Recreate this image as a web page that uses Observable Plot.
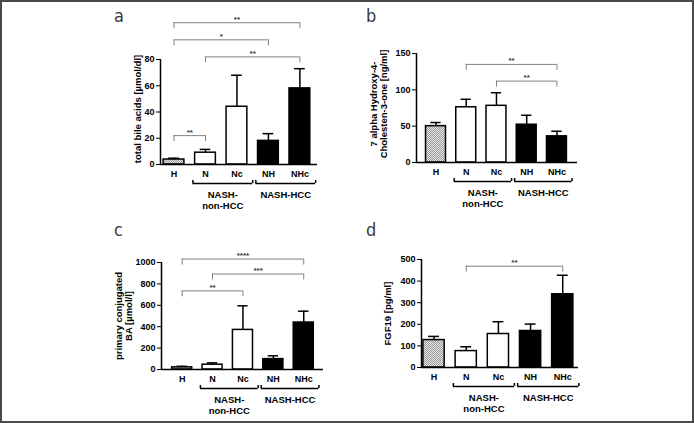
<!DOCTYPE html>
<html><head><meta charset="utf-8">
<script src="https://cdn.jsdelivr.net/npm/d3@7"></script>
<script src="https://cdn.jsdelivr.net/npm/@observablehq/plot@0.6"></script>
<style>
html,body{margin:0;padding:0;background:#fff;}
#fig{position:relative;width:694px;height:423px;overflow:hidden;background:#fff;}
#fig svg{position:absolute;}
#frame{position:absolute;left:0;top:0;width:694px;height:423px;box-sizing:border-box;border:2px solid #4a4a4a;pointer-events:none;}
</style></head><body>
<div id="fig"><div id="frame"></div></div>
<script>
// ---------- data ----------
const categories = ["H", "N", "Nc", "NH", "NHc"];
const groupNames = ["NASH-\nnon-HCC", "NASH-HCC"];
const groupFrom = ["N", "NH"];
const groupTo = ["Nc", "NHc"];

// a: total bile acids
const totalBAMean = [3.8, 9, 44, 18, 58];
const totalBAErr = [4.8, 11.5, 68, 23.5, 73];
const totalBATicks = [0, 20, 40, 60, 80];
const totalBASig = [["H", "N", "**", 22], ["N", "NHc", "**", 82], ["H", "NH", "*", 95], ["H", "NHc", "**", 108]];

// b: 7 alpha Hydroxy-4-Cholesten-3-one
const c4Mean = [50, 76, 78, 52, 36];
const c4Err = [55, 87, 96, 65, 43];
const c4Ticks = [0, 50, 100, 150];
const c4Sig = [["N", "NHc", "**", 135], ["Nc", "NHc", "**", 112]];

// c: primary conjugated BA
const pcBAMean = [20, 45, 370, 97, 439];
const pcBAErr = [30, 62, 595, 128, 545];
const pcBATicks = [0, 200, 400, 600, 800, 1000];
const pcBASig = [["H", "NHc", "****", 1032], ["N", "NHc", "***", 892], ["H", "Nc", "**", 735]];

// d: FGF19
const fgfMean = [127, 76, 155, 169, 339];
const fgfErr = [144, 96, 212, 201, 427];
const fgfTicks = [0, 100, 200, 300, 400, 500];
const fgfSig = [["N", "NHc", "**", 469]];

// ---------- layout ----------
const panels = [
  {letter: "a", mean: totalBAMean, err: totalBAErr, ticks: totalBATicks, sig: totalBASig, ylabel: "total bile acids [µmol/dl]",
   left: 0, top: 0, width: 347, height: 211, mL: 160, mR: 30, mT: 59, mB: 47, xDom: [-0.43, 4.56], labelDx: -23, labelDy: -3, lx: 114, ly: 22},
  {letter: "b", mean: c4Mean, err: c4Err, ticks: c4Ticks, sig: c4Sig, ylabel: "7 alpha Hydroxy-4-\nCholesten-3-one [ng/ml]",
   left: 347, top: 0, width: 347, height: 211, mL: 69, mR: 117, mT: 53, mB: 49, xDom: [-0.645, 4.68], labelDx: -38, labelDy: -4, lx: 366, ly: 22},
  {letter: "c", mean: pcBAMean, err: pcBAErr, ticks: pcBATicks, sig: pcBASig, ylabel: "primary conjugated\nBA [µmol/l]",
   left: 0, top: 211, width: 347, height: 212, mL: 161, mR: 24, mT: 51, mB: 54, xDom: [-0.68, 4.65], labelDx: -38, labelDy: 0, lx: 114, ly: 236},
  {letter: "d", mean: fgfMean, err: fgfErr, ticks: fgfTicks, sig: fgfSig, ylabel: "FGF19 [pg/ml]",
   left: 347, top: 211, width: 347, height: 212, mL: 74, mR: 116, mT: 48, mB: 56, xDom: [-0.39, 4.49], labelDx: -34, labelDy: 0, lx: 366, ly: 236}
];

const FONT = "Liberation Sans, Arial, Helvetica, sans-serif";
const fig = document.getElementById("fig");
const frameEl = document.getElementById("frame");

function makePanel(p) {
  const yMax = p.ticks[p.ticks.length - 1];
  const pxPerUnit = (p.height - p.mT - p.mB) / yMax;
  const leg = 6 / pxPerUnit, hook = 3 / pxPerUnit;
  const halfBar = 0.33, cap = 0.17;
  const rows = categories.map((c, i) => ({i, c, mean: p.mean[i], err: p.err[i]}));
  const sig = p.sig.map(([a, b, label, level]) => ({x1: categories.indexOf(a), x2: categories.indexOf(b), label, level}));
  const grp = groupNames.map((g, k) => ({label: g, x1: categories.indexOf(groupFrom[k]) - 0.4, x2: categories.indexOf(groupTo[k]) + 0.5}));
  const hatchId = "hatch-" + p.letter;

  const svg = Plot.plot({
    width: p.width, height: p.height,
    marginLeft: p.mL, marginRight: p.mR, marginTop: p.mT, marginBottom: p.mB,
    style: {fontFamily: FONT, fontSize: "9px", fontWeight: "bold", color: "black", background: "transparent", overflow: "visible"},
    x: {domain: p.xDom, ticks: categories.map((c, i) => i), tickFormat: i => categories[i], tickSize: 0, tickPadding: 6, label: null},
    y: {domain: [0, yMax], ticks: p.ticks, tickFormat: d => String(d), tickSize: 4, tickPadding: 2, label: null},
    marks: [
      // error bars (upper only)
      Plot.ruleX(rows, {x: "i", y1: "mean", y2: "err", stroke: "black", strokeWidth: 1.5}),
      Plot.ruleY(rows, {y: "err", x1: d => d.i - cap, x2: d => d.i + cap, stroke: "black", strokeWidth: 1.5}),
      // bars
      Plot.rect(rows.filter(d => d.c === "H"), {x1: d => d.i - halfBar, x2: d => d.i + halfBar, y1: 0, y2: "mean", fill: `url(#${hatchId})`, stroke: "black", strokeWidth: 1.5}),
      Plot.rect(rows.filter(d => d.c === "N" || d.c === "Nc"), {x1: d => d.i - halfBar, x2: d => d.i + halfBar, y1: 0, y2: "mean", fill: "white", stroke: "black", strokeWidth: 1.5}),
      Plot.rect(rows.filter(d => d.c === "NH" || d.c === "NHc"), {x1: d => d.i - halfBar, x2: d => d.i + halfBar, y1: 0, y2: "mean", fill: "black", stroke: "black", strokeWidth: 1.5}),
      // axes lines
      Plot.ruleY([0], {stroke: "black", strokeWidth: 1.5}),
      Plot.ruleX([p.xDom[0]], {stroke: "black", strokeWidth: 1.5}),
      // significance brackets
      Plot.ruleY(sig, {y: "level", x1: "x1", x2: "x2", stroke: "#808080", strokeWidth: 1}),
      Plot.ruleX(sig, {x: "x1", y1: "level", y2: d => d.level - leg, stroke: "#808080", strokeWidth: 1}),
      Plot.ruleX(sig, {x: "x2", y1: "level", y2: d => d.level - leg, stroke: "#808080", strokeWidth: 1}),
      Plot.text(sig, {x: d => (d.x1 + d.x2) / 2, y: "level", text: "label", lineAnchor: "bottom", dy: -1, fontSize: 8, fill: "#333", fontWeight: "bold"}),
      // group brackets under the axis
      Plot.ruleY(grp, {y: 0, x1: "x1", x2: "x2", dy: 19, stroke: "black", strokeWidth: 1.5}),
      Plot.ruleX(grp, {x: "x1", y1: 0, y2: hook, dy: 19, stroke: "black", strokeWidth: 1.5}),
      Plot.ruleX(grp, {x: "x2", y1: 0, y2: hook, dy: 19, stroke: "black", strokeWidth: 1.5}),
      Plot.text(grp, {x: d => (d.x1 + d.x2) / 2, y: 0, text: "label", dy: 25, lineAnchor: "top", lineHeight: 1.2, fontSize: 9.5, fontWeight: "bold", fill: "black"}),
      // y label
      Plot.text([p.ylabel], {frameAnchor: "left", textAnchor: "middle", lineAnchor: "middle", text: d => d, rotate: -90, dx: p.labelDx, dy: p.labelDy, fontSize: 9.5, fontWeight: "bold", lineHeight: 1.15, fill: "black"})
    ]
  });

  // hatch pattern for H bar
  const ns = "http://www.w3.org/2000/svg";
  const defs = document.createElementNS(ns, "defs");
  defs.innerHTML = `<pattern id="${hatchId}" width="2" height="2" patternUnits="userSpaceOnUse">
    <rect width="2" height="2" fill="#e6e6e6"/><rect width="1" height="1" fill="#9a9a9a"/><rect x="1" y="1" width="1" height="1" fill="#9a9a9a"/></pattern>`;
  svg.insertBefore(defs, svg.firstChild);
  svg.style.left = p.left + "px";
  svg.style.top = p.top + "px";
  fig.insertBefore(svg, frameEl);
}

panels.forEach(makePanel);

// panel letters
const overlay = d3.create("svg").attr("width", 694).attr("height", 423).style("left", "0px").style("top", "0px");
overlay.selectAll("text").data(panels).join("text")
  .attr("x", d => d.lx).attr("y", d => d.ly)
  .attr("font-family", "'DejaVu Sans Condensed', 'DejaVu Sans', sans-serif")
  .attr("font-weight", 300)
  .attr("font-size", 18).attr("fill", "#3a3a3a")
  .text(d => d.letter);
fig.insertBefore(overlay.node(), frameEl);
</script>
</body></html>
